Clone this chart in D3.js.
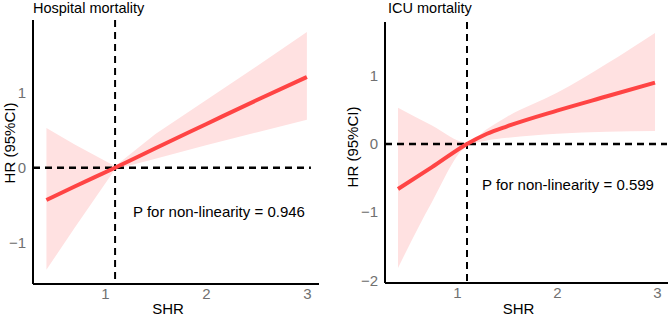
<!DOCTYPE html>
<html>
<head>
<meta charset="utf-8">
<script src="https://cdn.jsdelivr.net/npm/d3@7"></script>
<style>
  body { margin: 0; background: #fff; }
  svg { display: block; font-family: "Liberation Sans", Arial, sans-serif; }
  .tick-label { fill: #707070; font-size: 15px; }
  .axis-label { fill: #000; font-size: 15px; }
  .panel-title { fill: #000; font-size: 14.5px; }
  .note { fill: #000; font-size: 15px; }
</style>
</head>
<body>
<svg id="chart" width="669" height="316"></svg>
<script>
// Hospital mortality panel
const hospShr = [0.42, 0.7, 1.1, 1.5, 2.0, 2.5, 3.0];
const hospHr = [-0.43, -0.25, 0.0, 0.26, 0.58, 0.90, 1.21];
const hospUpper = [0.53, 0.31, 0.02, 0.45, 0.90, 1.35, 1.81];
const hospLower = [-1.36, -0.80, -0.02, 0.12, 0.30, 0.47, 0.64];

// ICU mortality panel
const icuShr = [0.41, 0.75, 1.1, 1.3, 1.5, 2.0, 2.5, 2.98];
const icuHr = [-0.66, -0.34, 0.0, 0.15, 0.26, 0.49, 0.70, 0.90];
const icuUpper = [0.53, 0.27, 0.02, 0.22, 0.40, 0.75, 1.18, 1.63];
const icuLower = [-1.82, -0.85, -0.03, 0.05, 0.09, 0.15, 0.18, 0.19];

const xTicks = [1, 2, 3];
const hospYTicks = [-1, 0, 1];
const icuYTicks = [-2, -1, 0, 1];
const refShr = 1.1;

const svg = d3.select("#chart");

function drawPanel(opt) {
  const g = svg.append("g");
  const x = d3.scaleLinear().domain(opt.xDomain).range(opt.xRange);
  const y = d3.scaleLinear().domain(opt.yDomain).range(opt.yRange);

  const rows = opt.shr.map((s, i) => ({ s, hr: opt.hr[i], lo: opt.lower[i], hi: opt.upper[i] }));

  // confidence band
  g.append("path")
    .datum(rows)
    .attr("fill", "#ffe1e1")
    .attr("stroke", "none")
    .attr("d", d3.area()
      .curve(opt.bandCurve)
      .x(d => x(d.s))
      .y0(d => y(d.lo))
      .y1(d => y(d.hi)));

  // reference lines
  g.append("line")
    .attr("x1", opt.xRange[0]).attr("x2", x(opt.hEnd))
    .attr("y1", y(0)).attr("y2", y(0))
    .attr("stroke", "#000").attr("stroke-width", 2.6)
    .attr("stroke-dasharray", "7 5");

  g.append("line")
    .attr("x1", x(refShr)).attr("x2", x(refShr))
    .attr("y1", opt.yRange[1]).attr("y2", opt.yRange[0])
    .attr("stroke", "#000").attr("stroke-width", 2)
    .attr("stroke-dasharray", "7 5");

  // fitted curve
  g.append("path")
    .datum(rows)
    .attr("fill", "none")
    .attr("stroke", "#ff4444")
    .attr("stroke-width", 4)
    .attr("d", d3.line()
      .curve(d3.curveMonotoneX)
      .x(d => x(d.s))
      .y(d => y(d.hr)));

  // axes
  const xAxis = g.append("g")
    .attr("transform", `translate(0,${opt.yRange[0]})`)
    .call(d3.axisBottom(x).tickValues(xTicks).tickSize(0).tickPadding(4).tickFormat(d3.format("d")));
  xAxis.select(".domain").attr("stroke", "#000").attr("stroke-width", 2).attr("d", `M${opt.xRange[0]},0H${opt.xRange[1]}`);
  xAxis.selectAll("text").attr("class", "tick-label").attr("font-size", null).attr("font-family", null).attr("fill", null);

  const yAxis = g.append("g")
    .attr("transform", `translate(${opt.xRange[0]},0)`)
    .call(d3.axisLeft(y).tickValues(opt.yTicks).tickSize(0).tickPadding(7)
      .tickFormat(d => d < 0 ? "\u2212" + Math.abs(d) : d));
  yAxis.select(".domain").attr("stroke", "#000").attr("stroke-width", 2).attr("d", `M0,${opt.yRange[0]}V${opt.yRange[1]}`);
  yAxis.selectAll("text").attr("class", "tick-label").attr("font-size", null).attr("font-family", null).attr("fill", null);

  g.append("text")
    .attr("class", "panel-title")
    .attr("x", opt.titleX)
    .attr("y", 13)
    .text(opt.title);

  g.append("text")
    .attr("class", "axis-label")
    .attr("transform", `translate(${opt.yLabelX},${opt.yLabelY}) rotate(-90)`)
    .attr("text-anchor", "middle")
    .text("HR (95%CI)");

  g.append("text")
    .attr("class", "axis-label")
    .attr("x", (opt.xRange[0] + opt.xRange[1]) / 2 - 8)
    .attr("y", 314)
    .attr("text-anchor", "middle")
    .text("SHR");

  g.append("text")
    .attr("class", "note")
    .attr("x", opt.noteX)
    .attr("y", opt.noteY)
    .text(opt.note);
}

drawPanel({
  title: "Hospital mortality", titleX: 33,
  shr: hospShr, hr: hospHr, upper: hospUpper, lower: hospLower,
  bandCurve: d3.curveLinear,
  xDomain: [0.287, 3.12], xRange: [33, 319],
  yDomain: [-1.55, 1.97], yRange: [284, 20],
  yTicks: hospYTicks, hEnd: 3.04,
  yLabelX: 15, yLabelY: 143,
  note: "P for non-linearity = 0.946", noteX: 133, noteY: 217
});

drawPanel({
  title: "ICU mortality", titleX: 388,
  shr: icuShr, hr: icuHr, upper: icuUpper, lower: icuLower,
  bandCurve: d3.curveMonotoneX,
  xDomain: [0.28, 3.11], xRange: [385, 668],
  yDomain: [-2.04, 1.79], yRange: [283, 22],
  yTicks: icuYTicks, hEnd: 3.1,
  yLabelX: 358, yLabelY: 147,
  note: "P for non-linearity = 0.599", noteX: 482, noteY: 190
});
</script>
</body>
</html>
